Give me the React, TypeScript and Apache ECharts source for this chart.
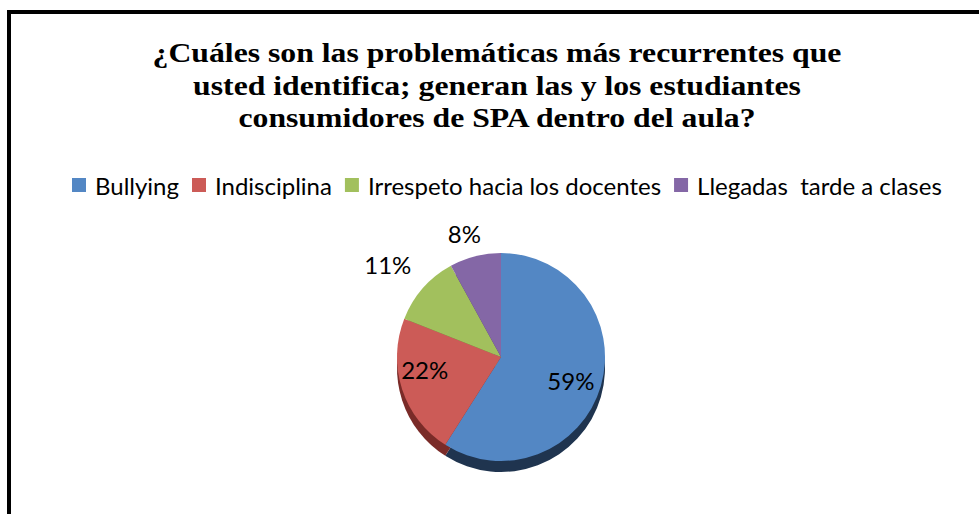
import React, { useEffect, useRef } from "react";
import * as echarts from "echarts";

const titleLines = [
  "¿Cuáles son las problemáticas más recurrentes que",
  "usted identifica; generan las y los estudiantes",
  "consumidores de SPA dentro del aula?",
];
const categories = [
  "Bullying",
  "Indisciplina",
  "Irrespeto hacia los docentes",
  "Llegadas  tarde a clases",
];
const values = [59, 22, 11, 8];

const topColors = ["#5387C4", "#CC5B57", "#A2C05D", "#8467A6"];
const sideColors = ["#1F344F", "#7A2B28", "#5F7535", "#4E3D66"];
const labelShift = [
  [17, 8],
  [-24, -4],
  [-72, -56],
  [-23, -70],
];

export default function App() {
  const ref = useRef<HTMLDivElement>(null);
  useEffect(() => {
    if (!ref.current) return;
    const chart = echarts.init(ref.current, null, { renderer: "svg" });
    const cx = 501;
    const cy = 357;
    const r = 104;
    const depth = 11;
    const titleGraphics = titleLines.map((line, i) => ({
      type: "text",
      x: 497,
      y: 52.5 + i * 32.5,
      scaleX: 1.133,
      z: 100,
      style: {
        text: line,
        fontFamily: "Liberation Serif",
        fontWeight: "bold",
        fontSize: 28,
        fill: "#000000",
        align: "center",
        verticalAlign: "middle",
      },
    }));
    chart.setOption({
      animation: false,
      backgroundColor: "#ffffff",
      legend: {
        data: categories,
        left: 67,
        top: 168,
        icon: "rect",
        itemWidth: 14,
        itemHeight: 14,
        itemGap: 13,
        selectedMode: false,
        textStyle: {
          fontFamily: "Lato",
          fontSize: 24,
          color: "#000000",
          padding: [0, 0, 0, 4],
        },
      },
      graphic: [
        ...titleGraphics,
        {
          type: "rect",
          shape: { x: 7, y: 10, width: 972, height: 4 },
          style: { fill: "#000000" },
          z: 100,
        },
        {
          type: "rect",
          shape: { x: 7, y: 10, width: 4, height: 504 },
          style: { fill: "#000000" },
          z: 100,
        },
      ],
      series: [
        {
          type: "pie",
          name: "top",
          z: 3,
          silent: true,
          center: [cx, cy],
          radius: r,
          startAngle: 90,
          clockwise: true,
          label: {
            show: true,
            position: "inside",
            formatter: "{c}%",
            fontFamily: "Lato",
            fontSize: 24,
            color: "#000000",
          },
          labelLine: { show: false },
          labelLayout: (p: any) => ({
            dx: labelShift[p.dataIndex][0],
            dy: labelShift[p.dataIndex][1],
          }),
          itemStyle: { borderWidth: 0 },
          data: categories.map((c, i) => ({
            name: c,
            value: values[i],
            itemStyle: { color: topColors[i] },
          })),
        },
        {
          type: "pie",
          name: "side",
          z: 1,
          silent: true,
          center: [cx, cy + depth],
          radius: r,
          startAngle: 90,
          clockwise: true,
          label: { show: false },
          labelLine: { show: false },
          itemStyle: { borderWidth: 0 },
          data: categories.map((c, i) => ({
            name: c + " (lado)",
            value: values[i],
            itemStyle: { color: sideColors[i] },
          })),
        },
      ],
    });
    return () => chart.dispose();
  }, []);
  return (
    <div
      ref={ref}
      style={{ position: "absolute", left: 0, top: 0, width: 979, height: 514 }}
    />
  );
}
